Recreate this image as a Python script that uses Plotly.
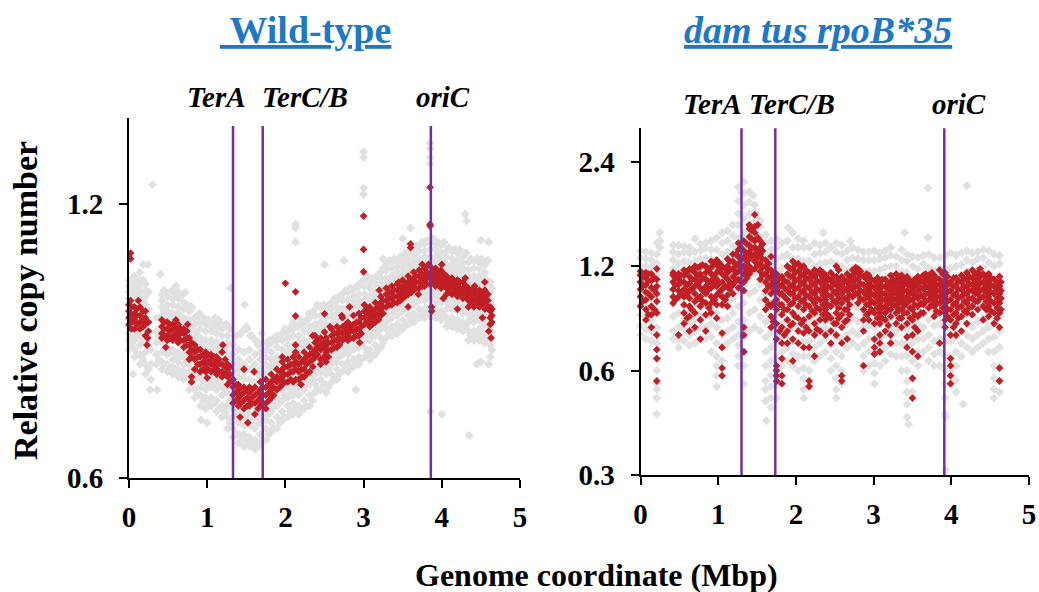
import plotly.graph_objects as go

W, H = 1039, 592
stations = [0.00,0.07,0.14,0.21,0.28,0.35,0.42,0.49,0.56,0.63,0.70,0.77,0.84,0.91,0.98,1.05,1.12,1.19,1.26,1.33,1.40,1.47,1.54,1.61,1.68,1.75,1.82,1.89,1.96,2.03,2.10,2.17,2.24,2.31,2.38,2.45,2.52,2.59,2.66,2.73,2.80,2.87,2.94,3.01,3.08,3.15,3.22,3.29,3.36,3.43,3.50,3.57,3.64,3.71,3.78,3.85,3.92,3.99,4.06,4.13,4.20,4.27,4.34,4.41,4.48,4.55,4.62]
fill_stations = [0.03,0.10,0.18,0.25,0.31,0.38,0.45,0.52,0.60,0.66,0.74,0.80,0.88,0.95,1.01,1.09,1.15,1.23,1.29,1.37,1.43,1.51,1.57,1.65,1.71,1.79,1.85,1.93,1.99,2.07,2.13,2.21,2.27,2.35,2.41,2.49,2.55,2.63,2.69,2.77,2.83,2.91,2.97,3.05,3.11,3.19,3.25,3.33,3.39,3.47,3.53,3.61,3.67,3.75,3.81,3.89,3.95,4.03,4.09,4.17,4.23,4.31,4.37,4.45,4.51,4.59,4.64]

wt_gray = [
[.83,.85,.865,.88,.93,.945,.96,.975,.99],[.815,.83,.85,.87,.89,.935,.955,.97,.985,1.0],[.80,.82,.84,.86,.945,.96,.975,.99,1.01],[.78,.80,.825,.85,.87,.93,.95,.965,.98],
[.77,.80,.83],[.80,.82,.845,.87,.90],[.79,.805,.825,.845,.905,.925,.94,.955],[.785,.80,.82,.835,.90,.915,.93,.95],[.78,.795,.81,.83,.895,.91,.93,.945],[.775,.79,.805,.825,.89,.91,.925,.945,.96],
[.77,.785,.80,.82,.885,.90,.92,.935],[.75,.77,.785,.80,.86,.88,.895,.915],[.735,.75,.77,.785,.85,.87,.885,.90],[.72,.74,.755,.775,.84,.855,.875,.89],[.715,.735,.75,.77,.835,.85,.87,.885],[.72,.735,.755,.77,.83,.85,.87,.88],[.71,.73,.75,.77,.83,.845,.865,.88],[.70,.72,.74,.76,.825,.84,.86,.875],[.68,.70,.72,.745,.81,.825,.845,.86],
[.665,.68,.70,.715,.785,.80,.82,.84],[.655,.67,.69,.71,.775,.79,.81,.83],[.65,.67,.685,.705,.77,.785,.80,.825],[.65,.665,.685,.705,.77,.79,.81,.83],[.645,.66,.68,.70,.765,.785,.80,.82],[.655,.67,.69,.705,.775,.79,.81,.825],[.66,.68,.695,.715,.78,.80,.815,.83],[.675,.69,.71,.725,.79,.81,.825,.845],[.68,.70,.72,.735,.80,.815,.835,.85],[.695,.71,.73,.75,.81,.83,.85,.865],
[.70,.72,.735,.755,.82,.84,.855,.87],[.705,.725,.74,.76,.825,.84,.86,.875],[.705,.72,.74,.76,.825,.845,.86,.88],[.715,.73,.75,.77,.835,.85,.87,.89],[.72,.74,.76,.78,.845,.865,.88,.90],[.745,.76,.78,.80,.87,.885,.905,.92],[.75,.77,.785,.805,.87,.89,.905,.925],[.745,.76,.78,.80,.865,.885,.90,.92],[.765,.78,.80,.82,.885,.905,.92,.935],[.77,.79,.805,.825,.89,.91,.925,.94],[.785,.80,.82,.84,.905,.92,.94,.955],
[.785,.805,.82,.84,.905,.925,.94,.96],[.795,.81,.83,.85,.915,.935,.95,.965],[.80,.815,.835,.855,.92,.94,.955,.975],[.815,.835,.855,.875,.94,.955,.975,.99],[.81,.83,.85,.87,.935,.95,.97,.985],[.82,.84,.86,.88,.945,.96,.98,.995],[.835,.855,.875,.895,.96,.98,.995,1.01],[.855,.875,.89,.91,.98,.995,1.015,1.03],[.86,.88,.90,.92,.985,1.0,1.02,1.035],[.865,.885,.905,.925,.99,1.01,1.025,1.04],
[.875,.895,.915,.935,1.0,1.02,1.035,1.05],[.885,.905,.925,.945,1.01,1.03,1.045,1.06],[.89,.91,.93,.95,1.02,1.035,1.055,1.07],[.90,.92,.94,.96,1.03,1.045,1.065,1.08],[.90,.92,.94,.96,1.03,1.05,1.065,1.085],[.905,.925,.945,.965,1.035,1.05,1.07,1.09],[.90,.92,.94,.96,1.03,1.05,1.07,1.085],[.895,.915,.935,.955,1.025,1.045,1.06,1.08],[.88,.90,.92,.94,1.01,1.03,1.05,1.065],[.88,.90,.92,.94,1.01,1.03,1.045,1.065],
[.875,.895,.915,.935,1.005,1.025,1.04,1.06],[.87,.89,.91,.93,1.0,1.02,1.035,1.05],[.85,.87,.89,.91,.98,1.0,1.015,1.035],[.85,.87,.89,.91,.98,1.0,1.02,1.04],[.85,.875,.895,.91,.98,1.0,1.02,1.035],[.845,.865,.885,.905,.975,.995,1.01,1.03],[.815,.84,.86,.88,.92,.94,.96,.985]]

wt_gray_fill = [
[.84,.86,.945,.97],[.82,.86,.95,.98],[.81,.85,.94,.99],[.79,.84,.92,.96],[],[.81,.86],
[.80,.83,.915,.965],[.79,.825,.91,.96],[.785,.82,.905,.955],[.78,.815,.90,.95],[.775,.81,.895,.93],[.76,.79,.875,.92],[.74,.775,.86,.905],[.73,.765,.85,.90],[.725,.76,.845,.895],[.725,.76,.84,.89],[.715,.755,.84,.89],[.71,.75,.835,.885],[.69,.73,.82,.875],
[.67,.705,.80,.86],[.66,.70,.795,.865],[.66,.695,.79,.875],[.655,.695,.79,.86],[.65,.69,.78,.84],[.66,.70,.785,.845],[.67,.705,.795,.85],[.68,.72,.80,.855],[.69,.725,.81,.86],[.70,.74,.82,.875],
[.71,.745,.83,.88],[.715,.75,.835,.885],[.715,.75,.835,.885],[.72,.76,.845,.895],[.73,.77,.855,.91],[.75,.79,.875,.93],[.76,.795,.88,.93],[.755,.79,.875,.93],[.77,.81,.895,.945],[.78,.815,.90,.95],[.795,.83,.915,.965],
[.795,.83,.915,.97],[.80,.84,.925,.975],[.81,.845,.93,.985],[.825,.865,.945,1.0],[.82,.86,.945,.995],[.83,.87,.955,1.005],[.845,.885,.97,1.02],[.865,.90,.985,1.04],[.87,.91,.995,1.045],[.875,.915,1.0,1.05],
[.885,.925,1.01,1.06],[.895,.935,1.02,1.07],[.90,.94,1.03,1.08],[.91,.95,1.04,1.09],[.91,.95,1.04,1.095],[.915,.955,1.04,1.10],[.91,.95,1.04,1.09],[.905,.945,1.035,1.09],[.89,.93,1.02,1.075],[.89,.93,1.02,1.07],
[.885,.925,1.015,1.07],[.88,.92,1.01,1.06],[.86,.90,.99,1.045],[.86,.90,.99,1.045],[.86,.90,.99,1.045],[.855,.895,.985,1.04],[.83,.87,.93,.97]]

wt_red = [
[.885,.90,.915,.93],[.875,.895,.91,.925],[.875,.89,.905,.925],[.86,.885,.90,.915],[],[],
[.855,.865,.88,.895],[.85,.86,.875,.89],[.85,.86,.875,.885],[.845,.855,.87,.885],[.835,.85,.865,.875],[.81,.825,.84,.855],[.79,.81,.825,.84],[.785,.80,.815,.83],[.785,.80,.815,.825],[.785,.80,.81,.82],[.78,.79,.805,.815],[.775,.785,.80,.825],[.76,.775,.79,.80],
[.725,.74,.755,.77],[.72,.735,.75,.76],[.715,.73,.745,.755],[.72,.73,.745,.755],[.705,.725,.74,.755],[.72,.735,.75,.765],[.725,.74,.755,.77],[.735,.75,.765,.78],[.75,.765,.775,.79],[.76,.775,.79,.805],
[.765,.78,.795,.81],[.765,.785,.80,.815],[.77,.785,.80,.815],[.775,.79,.81,.825],[.785,.805,.82,.835],[.815,.83,.845,.86],[.81,.83,.84,.855],[.805,.825,.84,.855],[.83,.845,.86,.875],[.835,.85,.865,.88],[.85,.865,.88,.90],
[.85,.865,.875,.89],[.855,.87,.885,.905],[.86,.875,.89,.91],[.885,.90,.915,.93],[.88,.895,.91,.925],[.89,.905,.92,.935],[.905,.92,.935,.95],[.925,.94,.955,.97],[.93,.945,.96,.975],[.935,.95,.965,.98],
[.945,.96,.975,.99],[.955,.97,.985,1.0],[.965,.98,.995,1.01],[.97,.985,1.0,1.015],[.975,.99,1.0,1.02],[.98,.995,1.005,1.025],[.975,.99,1.005,1.02],[.97,.985,1.0,1.015],[.955,.97,.985,1.0],[.955,.97,.98,.995],
[.95,.965,.98,.99],[.945,.96,.97,.985],[.925,.94,.955,.97],[.925,.94,.955,.97],[.925,.94,.95,.965],[.92,.935,.95,.965],[.885,.90,.915,.925]]

wt_red_fill = [
[.89,.905,.925],[.885,.905,.92],[.88,.895,.915],[.87,.89],[],[],
[.86,.875,.89],[.855,.87,.885],[.855,.865,.88],[.85,.865,.875],[.84,.855,.87],[.815,.83,.845],[.80,.815,.83],[.79,.805,.82],[.79,.805,.82],[.79,.80,.815],[.785,.80,.81],[.78,.795,.81],[.765,.78,.795],
[.73,.745,.76],[.725,.74,.755],[.72,.735,.75],[.725,.735,.75],[.715,.73,.745],[.725,.74,.755],[.73,.745,.76],[.74,.755,.77],[.755,.77,.785],[.765,.78,.795],
[.77,.785,.80],[.77,.79,.805],[.775,.79,.805],[.78,.80,.815],[.795,.81,.825],[.82,.835,.85],[.815,.835,.845],[.815,.83,.845],[.835,.85,.865],[.84,.855,.87],[.855,.87,.885],
[.855,.87,.88],[.86,.875,.89],[.865,.88,.90],[.89,.905,.92],[.885,.90,.915],[.895,.91,.925],[.91,.925,.94],[.93,.945,.96],[.935,.95,.965],[.94,.955,.97],
[.95,.965,.98],[.96,.975,.99],[.97,.985,1.0],[.975,.99,1.005],[.98,.995,1.01],[.985,1.0,1.015],[.98,.995,1.01],[.975,.99,1.005],[.96,.975,.99],[.96,.975,.985],
[.955,.97,.985],[.95,.965,.975],[.93,.945,.96],[.93,.945,.96],[.93,.945,.96],[.925,.94,.955],[.89,.905,.92]]

wt_gray_out_x = [3.0,3.0,3.0,3.0,3.85,3.85,3.85,3.85,2.13,2.13,2.13,0.3,3.6,4.3,4.32,4.35,1.65,0.92,1.0,1.3,1.48,4.5,4.6,2.75,2.5,3.5,0.18,0.24,0.4,2.9,4.45,4.5,4.6,0.05,0.27,0.36,3.85,1.2,4.0,3.25,3.95,1.1,1.15,1.25,1.45,1.5,1.55,1.62,1.7,1.78,1.85,1.9,2.0,2.1,2.2,2.3,0.55,0.6,0.65,0.72,0.8,0.9]
wt_gray_out_y = [1.37,1.35,1.25,1.23,1.40,1.38,1.35,1.33,1.14,1.13,1.09,1.26,1.13,1.17,1.15,.668,.65,.695,.69,.97,.93,1.095,1.09,1.04,1.03,1.10,1.03,1.03,1.005,.75,.80,.805,.80,.78,.75,.75,.71,.72,.705,1.045,1.06,.90,.895,.885,.87,.88,.86,.85,.865,.84,.85,.86,.87,.89,.895,.91,.965,.975,.955,.96,.925,.91]
wt_red_out_x = [0.02,0.02,0.02,2.0,2.13,2.13,2.13,2.5,2.5,3.0,3.0,3.0,3.85,3.85,3.85,3.6,3.6,0.8,0.8,1.0,1.47,1.6,3.87,3.87,0.23,3.75,3.83,4.0,2.13,0.03,0.47,4.42,4.55,0.12,0.24,0.6,0.75,1.2,1.42,1.52,1.75,1.96,2.2,2.35,2.45,2.57,2.72,2.82,2.95,3.2,3.45,3.57,3.7,4.02,4.2,4.3,4.52,4.6,4.63]
wt_red_out_y = [1.06,1.045,.94,.982,.961,.904,.84,.909,.868,1.164,1.07,1.011,1.252,1.14,1.135,1.085,1.075,.775,.765,.773,.79,.785,.925,.915,.84,1.03,1.03,1.03,.825,.875,.835,.975,.985,.94,.855,.895,.885,.84,.70,.69,.715,.815,.76,.86,.80,.88,.905,.925,.845,.965,.985,.925,.955,.945,.92,.995,.90,.87,.855]

mut_gray = [
[.76,.81,.87,.93,1.0,1.08,1.14,1.2,1.27,1.33],[.74,.79,.85,.92,.99,1.06,1.13,1.2,1.26,1.32],[.73,.78,.84,.9,.97,1.04,1.11,1.19,1.25,1.31],[.45,.5,.53,.55,.6,.65,.72,.8,.88,.96,1.05,1.14,1.22,1.3,1.4],[],[],
[.74,.78,.86,.93,1.02,1.1,1.18,1.25,1.32,1.38],[.7,.74,.8,.88,.97,1.06,1.15,1.22,1.3,1.38],[.73,.79,.85,.92,1.0,1.09,1.17,1.24,1.32,1.37],[.71,.76,.82,.9,.98,1.07,1.15,1.23,1.31,1.36],[.72,.78,.84,.92,1.0,1.09,1.17,1.24,1.32,1.44],[.74,.8,.87,.95,1.03,1.11,1.19,1.26,1.33,1.39],[.74,.8,.86,.93,1.02,1.11,1.18,1.27,1.35,1.4],[.68,.75,.82,.9,.99,1.08,1.17,1.26,1.34,1.42],[.54,.58,.62,.66,.72,.8,.88,.97,1.06,1.16,1.25,1.34,1.45],[.64,.7,.76,.84,.93,1.02,1.12,1.22,1.3,1.4,1.5],[.72,.78,.85,.94,1.03,1.13,1.22,1.32,1.42,1.52],[.74,.8,.88,.97,1.07,1.17,1.27,1.37,1.47,1.58],[.62,.66,.71,.76,.83,.92,1.02,1.12,1.22,1.33,1.44,1.58,1.7,1.85,2.03],
[.55,.62,.68,.75,.84,.94,1.06,1.2,1.36,1.5,1.65,1.8,1.95,2.1],[.78,.88,1.0,1.14,1.28,1.42,1.56,1.7,1.84,1.97],[.8,.9,1.02,1.14,1.26,1.38,1.5,1.62,1.72,1.8],[.78,.86,.96,1.06,1.16,1.26,1.36,1.46,1.56,1.62],[.49,.53,.56,.62,.68,.75,.83,.92,1.0,1.1,1.2,1.3,1.4,1.48],[.47,.5,.54,.58,.64,.7,.77,.85,.94,1.04,1.14,1.24,1.34,1.42],[.5,.55,.6,.65,.72,.8,.88,.97,1.06,1.16,1.26,1.36,1.44],[.62,.68,.75,.82,.9,.99,1.08,1.18,1.28,1.4],[.64,.7,.76,.84,.92,1.01,1.1,1.2,1.3,1.42],[.62,.67,.73,.8,.88,.97,1.06,1.16,1.26,1.36,1.5],
[.6,.66,.72,.8,.88,.97,1.06,1.17,1.26,1.36,1.44],[.5,.53,.57,.61,.66,.73,.82,.92,1.02,1.13,1.24,1.36,1.42],[.54,.6,.66,.73,.82,.92,1.02,1.13,1.24,1.36],[.64,.7,.76,.84,.92,1.01,1.1,1.2,1.3,1.4],[.66,.72,.78,.86,.94,1.03,1.12,1.22,1.31,1.38],[.68,.74,.8,.88,.96,1.05,1.14,1.23,1.32,1.4],[.6,.65,.71,.78,.86,.95,1.04,1.14,1.24,1.36],[.5,.53,.57,.62,.68,.75,.83,.92,1.02,1.12,1.22,1.32,1.4],[.55,.6,.66,.74,.82,.91,1.0,1.1,1.2,1.3,1.38],[.7,.76,.82,.9,.98,1.07,1.16,1.25,1.33],[.72,.78,.85,.93,1.01,1.1,1.19,1.27,1.36],
[.7,.76,.83,.91,.99,1.08,1.17,1.26,1.34],[.6,.66,.72,.8,.88,.97,1.06,1.16,1.25,1.32],[.62,.68,.74,.81,.89,.98,1.07,1.16,1.25,1.32],[.55,.59,.63,.67,.73,.8,.88,.97,1.06,1.16,1.25,1.33],[.62,.68,.74,.82,.9,.99,1.08,1.17,1.26,1.31],[.64,.7,.76,.84,.92,1.01,1.1,1.19,1.27,1.33],[.67,.72,.78,.85,.93,1.02,1.11,1.2,1.29,1.36],[.66,.72,.78,.86,.94,1.03,1.12,1.2,1.28],[.6,.66,.72,.8,.88,.97,1.06,1.16,1.25,1.34],[.44,.48,.52,.56,.6,.66,.72,.79,.87,.96,1.05,1.15,1.24,1.3],
[.52,.57,.64,.72,.81,.9,1.0,1.1,1.2,1.28],[.62,.68,.74,.82,.9,.99,1.08,1.18,1.27],[.68,.74,.8,.87,.95,1.04,1.13,1.22,1.29],[.64,.7,.76,.84,.92,1.01,1.1,1.19,1.3],[.62,.67,.73,.81,.89,.98,1.07,1.17,1.27],[.62,.68,.74,.82,.9,.99,1.08,1.18,1.27],[.45,.5,.55,.6,.66,.73,.81,.9,.99,1.08,1.18,1.29],[.55,.6,.66,.73,.81,.9,.99,1.08,1.18,1.31],[.52,.56,.62,.68,.75,.83,.92,1.01,1.11,1.2,1.29],[.66,.72,.78,.86,.94,1.03,1.12,1.21,1.31],
[.7,.76,.82,.9,.98,1.07,1.16,1.25,1.33],[.68,.74,.8,.88,.96,1.05,1.14,1.23,1.31],[.7,.76,.83,.91,.99,1.08,1.17,1.26,1.32],[.72,.78,.85,.93,1.01,1.1,1.19,1.27,1.34],[.68,.74,.8,.88,.96,1.05,1.14,1.23,1.33],[.5,.53,.57,.62,.68,.75,.83,.91,1.0,1.1,1.2,1.3],[.52,.56,.62,.7,.78,.86,.95,1.04,1.13,1.22,1.29]]

mut_red = [
[.92,.98,1.03,1.08,1.13,1.16],[.84,.9,.96,1.01,1.06,1.11,1.15],[.8,.87,.92,.98,1.04,1.09,1.14],[.76,.69,.65,.56,.88,.95,1.0,1.05,1.1,1.18],[],[],
[.94,.98,1.03,1.08,1.13,1.15],[.98,1.02,1.06,1.1,1.14,.76],[.82,.88,.93,.98,1.03,1.08,1.13,1.17],[.78,.86,.92,.97,1.02,1.07,1.12,1.18],[.8,.88,.95,1.0,1.05,1.1,1.15,1.2],[.74,.84,.92,.98,1.04,1.09,1.14,1.2],[.78,.87,.94,1.0,1.05,1.1,1.15,1.2],[.88,.94,.98,1.04,1.09,1.14,1.19,1.24],[.85,.93,.99,1.05,1.1,1.15,1.21,1.25],[.77,.7,.61,.58,.93,.98,1.03,1.08,1.14,1.2],[.92,.99,1.05,1.1,1.15,1.2,1.26],[1.0,1.06,1.12,1.18,1.24,1.3],[1.04,1.1,1.16,1.22,1.28,1.34,1.4],
[.8,.76,.68,1.02,1.08,1.14,1.2,1.27,1.33,1.42],[1.14,1.2,1.26,1.32,1.38,1.46,1.54,1.58],[1.18,1.24,1.3,1.36,1.42,1.5,1.56,1.69],[1.1,1.16,1.22,1.3,1.36,1.42],[.9,.96,1.02,1.08,1.14,1.2,1.25],[.8,.86,.92,1.0,1.06,1.12,1.17,1.28],[.62,.6,.58,.56,.74,.82,.9,.96,1.02,1.08,1.14],[.55,.58,.65,.72,.8,.87,.93,1.0,1.06,1.12],[.72,.78,.84,.9,.96,1.02,1.08,1.14,1.2],[.64,.74,.82,.88,.94,1.0,1.06,1.12,1.18,1.24],
[.72,.78,.85,.92,.98,1.04,1.1,1.16,1.22],[.7,.77,.84,.9,.96,1.02,1.08,1.14,1.2],[.56,.54,.7,.78,.86,.92,.98,1.04,1.1,1.15],[.66,.76,.82,.88,.94,1.0,1.06,1.12,1.17],[.78,.84,.9,.96,1.02,1.08,1.14,1.17],[.76,.84,.9,.96,1.02,1.08,1.13],[.72,.78,.85,.92,.98,1.04,1.09,1.15],[.76,.82,.88,.94,1.0,1.06,1.12,1.2],[.58,.56,.72,.8,.87,.94,1.0,1.06,1.12],[.74,.84,.9,.96,1.02,1.08,1.14],[.98,1.03,1.08,1.13,1.17],
[.94,1.0,1.05,1.1,1.15,1.18],[.62,.78,.84,.9,.96,1.01,1.06,1.12],[.84,.88,.93,.97,1.02,1.07,1.13],[.7,.67,.74,.82,.88,.94,.99,1.04,1.09],[.68,.72,.76,.82,.88,.94,.98,1.03,1.08],[.78,.84,.88,.92,.96,1.0,1.05,1.1],[.72,.76,.86,.9,.95,.99,1.03,1.08,1.13],[.82,.88,.92,.96,1.0,1.04,1.09,1.14],[.8,.85,.9,.95,1.0,1.04,1.08,1.13],[.7,.75,.82,.88,.94,.98,1.02,1.07,1.12],
[.57,.5,.68,.76,.84,.9,.96,1.02,1.08],[.66,.78,.86,.92,.97,1.02,1.07,1.12],[.88,.93,.98,1.03,1.08,1.13],[.91,.96,1.0,1.04,1.08,1.13],[.86,.92,.96,1.0,1.04,1.09,1.13],[.72,.88,.94,.98,1.02,1.06,1.1,1.17],[.8,.84,.88,.92,.98,1.04,1.09,1.15],[.65,.62,.58,.55,.76,.84,.9,.96,1.02,1.08],[.76,.82,.88,.94,1.0,1.06,1.11],[.78,.86,.92,.98,1.03,1.08,1.13],
[.82,.88,.94,1.0,1.05,1.1,1.15],[.87,.92,.97,1.02,1.06,1.11,1.17],[.9,.95,1.0,1.05,1.1,1.15],[.84,.92,.98,1.03,1.08,1.14],[.86,.92,.98,1.04,1.09,1.14],[.82,.88,.94,1.0,1.05,1.1],[.61,.56,.8,.88,.94,1.0,1.05,1.12]]

mut_red_fill = [
[.95,1.05,1.12],[.87,1.0,1.09,1.14],[.9,1.02,1.11],[],[],[],
[.96,1.06,1.11],[1.0,1.08,1.13],[.85,1.0,1.06,1.16],[.9,1.03,1.1,1.17],[.97,1.07,1.13,1.19],[.95,1.02,1.11,1.21],[.91,1.03,1.08,1.18],[.96,1.06,1.12,1.22],[1.01,1.07,1.17,1.23],[.96,1.05,1.12,1.18],[1.03,1.08,1.17,1.24],[1.09,1.15,1.21,1.3],[1.08,1.19,1.26,1.36],
[1.11,1.17,1.24,1.3,1.39],[1.17,1.28,1.35,1.44,1.52],[1.21,1.27,1.33,1.45,1.58],[1.13,1.19,1.26,1.33,1.39],[.93,1.05,1.11,1.17,1.22],[.83,.94,1.03,1.09,1.15],[.78,.93,1.0,1.05,1.11],[.76,.9,.98,1.04,1.09],[.81,.93,1.0,1.05,1.12,1.18],[.86,.97,1.03,1.09,1.15,1.21],
[.82,.95,1.01,1.07,1.13,1.19],[.8,.93,.99,1.05,1.11,1.17],[.89,.96,1.01,1.07,1.12,1.14],[.79,.91,.97,1.03,1.09,1.15],[.87,.93,.99,1.05,1.11,1.15],[.87,.93,.99,1.05,1.11],[.82,.95,1.01,1.07,1.12],[.85,.91,.97,1.03,1.09,1.17],[.83,.9,.97,1.03,1.09],[.87,.93,.99,1.05,1.11],[1.0,1.05,1.1,1.15,1.19],
[.97,1.02,1.07,1.13,1.16],[.87,.93,.99,1.04,1.1,1.14],[.9,.95,1.0,1.05,1.1],[.85,.91,.97,1.01,1.06,1.11],[.85,.91,.96,1.0,1.05,1.1],[.81,.9,.94,.98,1.03,1.07],[.93,.97,1.01,1.06,1.1],[.85,.9,.94,.98,1.02,1.07,1.11],[.88,.92,.97,1.02,1.06,1.1],[.85,.91,.96,1.0,1.05,1.09],
[.8,.87,.93,.99,1.05,1.1],[.88,.94,.99,1.04,1.09],[.95,1.0,1.05,1.1,1.14],[.93,.98,1.02,1.06,1.1,1.15],[.89,.94,.98,1.02,1.06,1.11],[.91,.96,1.0,1.04,1.08,1.14],[.86,.9,.95,1.01,1.06,1.12],[.8,.87,.93,.99,1.05,1.11],[.85,.91,.97,1.03,1.09],[.89,.95,1.0,1.05,1.1],
[.91,.97,1.02,1.07,1.12],[.95,1.0,1.04,1.09,1.14],[.97,1.02,1.07,1.12,1.18],[.9,.95,1.01,1.06,1.11],[.89,.95,1.01,1.06,1.11],[.85,.91,.97,1.03,1.08],[.9,.97,1.02,1.08]]

mut_gray_out_x = [1.3,3.7,4.2,3.7,3.4,1.9,0.25,3.93,3.45,1.45,2.35,3.93,4.15,2.7,1.62,0.25,0.25]
mut_gray_out_y = [1.95,2.02,2.05,1.45,1.5,1.55,1.5,.31,.42,1.92,1.5,.44,.48,1.42,.43,1.42,1.36]

tera, terc, oric = [1.33, 1.71, 3.86]
mtera, mterc, moric = [1.30, 1.735, 3.91]
GRAY, RED, PURPLE, BLUE = "#e1e1e1", "#c01f25", "#7030a0", "#1f78c4"
SERIF = "Liberation Serif"


def flatten(xs, rows):
    fx, fy = [], []
    for x, row in zip(xs, rows):
        for y in row:
            fx.append(x)
            fy.append(y)
    return fx, fy


fig = go.Figure()


def points(px, py, color, size, ax):
    fig.add_trace(go.Scatter(x=px, y=py, mode="markers", showlegend=False, xaxis="x" + ax, yaxis="y" + ax,
                             marker=dict(symbol="diamond", color=color, size=size, line=dict(width=0)), cliponaxis=False))


def add_panel(gray, gray_fill, red, red_fill, gx, gy, rx, ry, lines, top, ybase, ax):
    a, b = flatten(stations, gray)
    c, d = flatten(fill_stations, gray_fill)
    points(a + c + gx, b + d + gy, GRAY, 7, ax)
    a, b = flatten(stations, red)
    c, d = flatten(fill_stations, red_fill)
    points(a + c + rx, b + d + ry, RED, 6, ax)
    for v in lines:
        fig.add_trace(go.Scatter(x=[v, v], y=[ybase, top], mode="lines", showlegend=False, xaxis="x" + ax, yaxis="y" + ax,
                                 line=dict(color=PURPLE, width=2.5), cliponaxis=False))


add_panel(wt_gray, wt_gray_fill, wt_red, wt_red_fill, wt_gray_out_x, wt_gray_out_y, wt_red_out_x, wt_red_out_y, [tera, terc, oric], 1.462, 0.6, "")
add_panel(mut_gray, [], mut_red, mut_red_fill, mut_gray_out_x, mut_gray_out_y, [], [], [mtera, mterc, moric], 3.04, 0.3, "2")

tick = dict(family=SERIF, size=29, color="black", weight="bold")


def xax(l, r):
    return dict(domain=[l / W, r / W], range=[0, 5], tickvals=[0, 1, 2, 3, 4, 5], ticks="outside", ticklen=8, tickwidth=2,
                tickcolor="black", showline=True, linecolor="black", linewidth=2, showgrid=False, zeroline=False,
                tickfont=tick, ticklabelstandoff=4)


def yax(t, b, rng, vals, anchor):
    return dict(domain=[1 - b / H, 1 - t / H], type="log", range=rng, tickvals=vals, ticktext=[f"{v:.1f}" for v in vals],
                ticks="outside", ticklen=8, tickwidth=2, tickcolor="black", showline=True, linecolor="black", linewidth=2,
                showgrid=False, zeroline=False, tickfont=tick, anchor=anchor, ticklabelstandoff=10)


fig.update_layout(width=W, height=H, margin=dict(l=0, r=0, t=0, b=0, autoexpand=False), paper_bgcolor="white", plot_bgcolor="rgba(0,0,0,0)",
                  xaxis=dict(xax(129, 520), anchor="y"), yaxis=yax(118, 478, [-0.2219, 0.1738], [0.6, 1.2], "x"),
                  xaxis2=dict(xax(640.5, 1029), anchor="y2"), yaxis2=yax(128.3, 475, [-0.52295, 0.4771], [0.3, 0.6, 1.2, 2.4], "x2"))


def text(s, x, y, size, color="black", italic=False, angle=0):
    fig.add_annotation(text=s, x=x / W, y=1 - y / H, xref="paper", yref="paper", xanchor="center", yanchor="middle", showarrow=False, textangle=angle,
                       font=dict(family=SERIF, size=size, color=color, weight="bold", style="italic" if italic else "normal"))


text("<u>\u00a0Wild-type</u>", 305, 30, 38, BLUE)
text("<u>dam tus rpoB*35</u>", 818, 30, 38, BLUE, italic=True)
text("TerA", 216, 97, 29, italic=True)
text("TerC/B", 305, 97, 29, italic=True)
text("oriC", 443, 97, 29, italic=True)
text("TerA", 712, 104, 29, italic=True)
text("TerC/B", 792, 104, 29, italic=True)
text("oriC", 959, 104, 29, italic=True)
text("Relative copy number", 25, 301, 34, angle=-90)
text("Genome coordinate (Mbp)", 596, 575, 32)

fig.write_html("out.html", config={"displayModeBar": False}, post_script="document.body.style.margin='0';")
